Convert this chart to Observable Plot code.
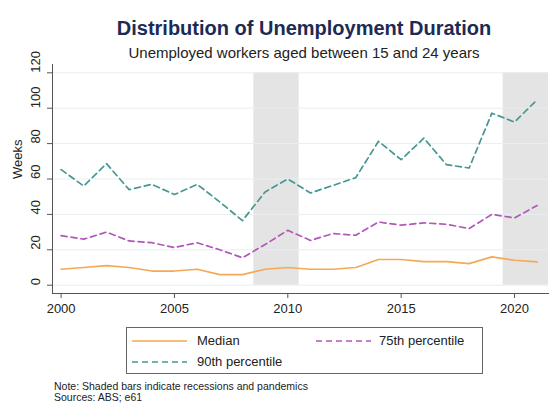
<!DOCTYPE html>
<html>
<head>
<meta charset="utf-8">
<script src="https://cdn.jsdelivr.net/npm/d3@7"></script>
<script src="https://cdn.jsdelivr.net/npm/@observablehq/plot@0.6"></script>
<style>
  html, body { margin: 0; padding: 0; background: #fff; }
  #wrap { position: relative; width: 554px; height: 407px; font-family: "Liberation Sans", Arial, sans-serif; overflow: hidden; }
  #chart { position: absolute; left: 0; top: 0; }
  .title { position: absolute; left: 60px; width: 488px; text-align: center; white-space: nowrap; }
  #t1 { top: 18px; font-size: 20px; line-height: 20px; font-weight: bold; color: #1c2b55; }
  #t2 { top: 45px; font-size: 15px; line-height: 15px; color: #222; }
  #legend { position: absolute; left: 126px; top: 327px; width: 355px; height: 45px; border: 1px solid #666; box-sizing: content-box; }
  #legend svg { position: absolute; left: 0; top: 0; }
  .lt { position: absolute; font-size: 13px; line-height: 13px; color: #222; white-space: nowrap; }
  #note { position: absolute; left: 54px; top: 381px; font-size: 10.5px; line-height: 11.3px; color: #222; white-space: nowrap; }
</style>
</head>
<body>
<div id="wrap">
  <div id="t1" class="title">Distribution of Unemployment Duration</div>
  <div id="t2" class="title">Unemployed workers aged between 15 and 24 years</div>
  <div id="chart"></div>
  <div id="legend"></div>
  <div id="note">Note: Shaded bars indicate recessions and pandemics<br>Sources: ABS; e61</div>
</div>
<script>
// ---- Data ----
const years  = [2000,2001,2002,2003,2004,2005,2006,2007,2008,2009,2010,2011,2012,2013,2014,2015,2016,2017,2018,2019,2020,2021];
const median = [9,10,11,10,8,8,9,6,6,9,10,9,9,10,14.5,14.5,13.3,13.3,12.2,16,14.1,13.2];
const p75    = [28,26,30,25,24,21.3,24,20,15.5,23,31,25.3,29.2,28.2,35.7,33.9,35.2,34.4,32,40,38,45];
const p90    = [65.3,56,68.7,54,57,51.2,57,47,36.5,52.7,60,52.1,56.4,60.8,81.3,70.9,83.1,68.1,66.2,97.2,92.2,104.8];
const recessionStart = [2008.5, 2019.5];
const recessionEnd   = [2010.5, 2021.5];
const xTicks = [2000, 2005, 2010, 2015, 2020];
const yTicks = [0, 20, 40, 60, 80, 100, 120];
const seriesNames = ["Median", "75th percentile", "90th percentile"];
const seriesColors = ["#f5a955", "#b058b8", "#469794"];

// ---- Build tables ----
const rows = [];
years.forEach((y, i) => {
  rows.push({year: y, value: median[i], series: seriesNames[0]});
  rows.push({year: y, value: p75[i], series: seriesNames[1]});
  rows.push({year: y, value: p90[i], series: seriesNames[2]});
});
const recessions = recessionStart.map((s, i) => ({start: s, end: recessionEnd[i]}));

const chart = Plot.plot({
  width: 554,
  height: 407,
  marginLeft: 52,
  marginRight: 6,
  marginTop: 64,
  marginBottom: 114,
  style: {fontFamily: "'Liberation Sans', Arial, sans-serif", background: "transparent", color: "#222"},
  x: {domain: [1999.62, 2021.5]},
  y: {domain: [-4.7, 124.7]},
  marks: [
    Plot.rect(recessions, {x1: "start", x2: "end", y1: 0, y2: 120, fill: "#e4e4e4"}),
    Plot.ruleY(yTicks, {stroke: "#e6efef", strokeWidth: 1}),
    Plot.frame({anchor: "left", stroke: "#555"}),
    Plot.frame({anchor: "bottom", stroke: "#555"}),
    Plot.axisX({ticks: xTicks, tickSize: 5, tickPadding: 5, tickFormat: d => String(d), fontSize: 13, stroke: "#555", label: null, fill: "#222"}),
    Plot.axisY({ticks: yTicks, tickSize: 5, tickFormat: () => "", stroke: "#555", label: null}),
    Plot.text(yTicks, {y: d => d, text: d => String(d), frameAnchor: "left", dx: -17, rotate: -90, fontSize: 13, fill: "#222"}),
    Plot.text(["Weeks"], {frameAnchor: "left", dx: -35, rotate: -90, fontSize: 13, fill: "#222"}),
    Plot.line(rows.filter(d => d.series === seriesNames[0]), {x: "year", y: "value", stroke: seriesColors[0], strokeWidth: 1.7}),
    Plot.line(rows.filter(d => d.series === seriesNames[1]), {x: "year", y: "value", stroke: seriesColors[1], strokeWidth: 1.7, strokeDasharray: "6,4"}),
    Plot.line(rows.filter(d => d.series === seriesNames[2]), {x: "year", y: "value", stroke: seriesColors[2], strokeWidth: 1.7, strokeDasharray: "6,4"})
  ]
});
document.getElementById("chart").appendChild(chart);

// ---- Legend ----
const legend = document.getElementById("legend");
const ns = "http://www.w3.org/2000/svg";
const lsvg = document.createElementNS(ns, "svg");
lsvg.setAttribute("width", 355);
lsvg.setAttribute("height", 45);
const items = [
  {name: seriesNames[0], color: seriesColors[0], dash: null, x: 5, y: 13, tx: 70},
  {name: seriesNames[1], color: seriesColors[1], dash: "6,4", x: 189, y: 13, tx: 252},
  {name: seriesNames[2], color: seriesColors[2], dash: "6,4", x: 5, y: 34, tx: 70}
];
items.forEach(it => {
  const l = document.createElementNS(ns, "line");
  l.setAttribute("x1", it.x); l.setAttribute("x2", it.x + 55);
  l.setAttribute("y1", it.y); l.setAttribute("y2", it.y);
  l.setAttribute("stroke", it.color); l.setAttribute("stroke-width", 1.7);
  if (it.dash) l.setAttribute("stroke-dasharray", it.dash);
  lsvg.appendChild(l);
  const t = document.createElement("div");
  t.className = "lt";
  t.textContent = it.name;
  t.style.left = it.tx + "px";
  t.style.top = (it.y - 7) + "px";
  legend.appendChild(t);
});
legend.appendChild(lsvg);
</script>
</body>
</html>
